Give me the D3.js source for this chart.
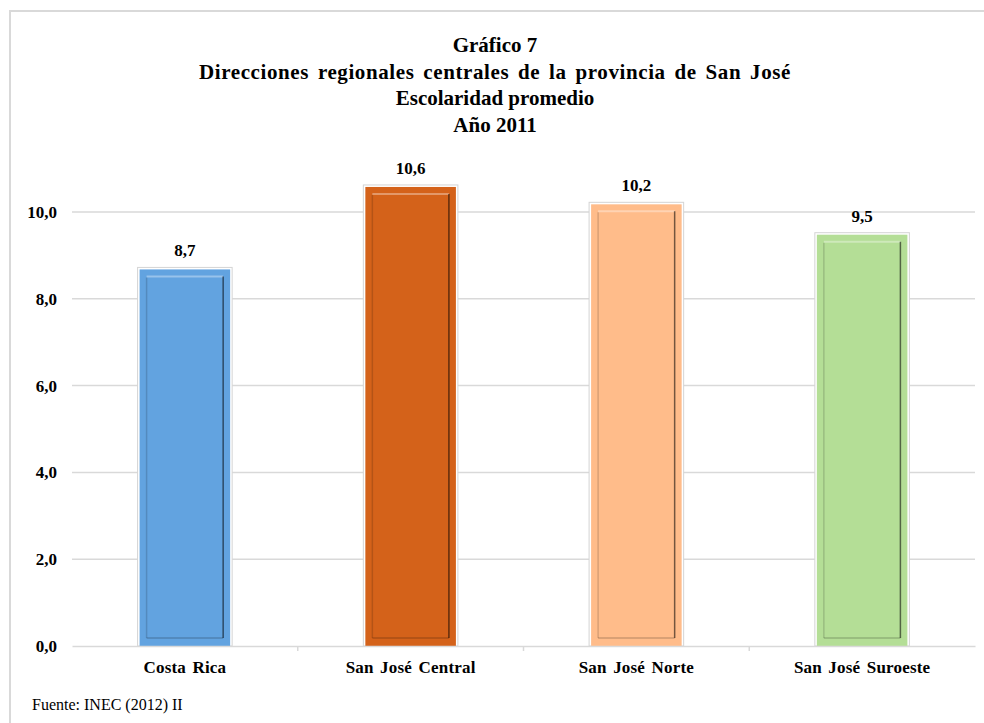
<!DOCTYPE html>
<html>
<head>
<meta charset="utf-8">
<script src="https://cdn.jsdelivr.net/npm/d3@7"></script>
<style>
  body { margin: 0; background: #fff; }
  svg text { font-family: "Liberation Serif", "Times New Roman", serif; }
</style>
</head>
<body>
<script>
// Settings
const SIZE = [984, 723]
const MARGIN = {top: 212, right: 9, bottom: 77, left: 72}

const categories = ["Costa Rica", "San José Central", "San José Norte", "San José Suroeste"]
const values = [8.7, 10.6, 10.2, 9.5]
const colors = ["#62a3e0", "#d4621a", "#ffbc8a", "#b4de96"]
const yTicks = [0, 2, 4, 6, 8, 10]
const titleLines = [
  "Gráfico 7",
  "Direcciones regionales centrales de la provincia de San José",
  "Escolaridad promedio",
  "Año 2011"
]
const source = "Fuente: INEC (2012) II"

const fmt = d => d3.format(".1f")(d).replace(".", ",")

const svg = d3.select("body").append("svg")
  .attr("width", SIZE[0])
  .attr("height", SIZE[1])

// outer frame (cut off at right and bottom)
svg.append("path")
  .attr("d", `M10,${SIZE[1] + 5} V11 H${SIZE[0] + 5}`)
  .attr("fill", "none")
  .attr("stroke", "#d9d9d9")
  .attr("stroke-width", 2)

const x = d3.scaleBand()
  .domain(categories)
  .range([MARGIN.left, SIZE[0] - MARGIN.right])
  .paddingInner(0.59)
  .paddingOuter(0.295)

const xOuter = d3.scaleBand()
  .domain(categories)
  .range([MARGIN.left, SIZE[0] - MARGIN.right])

const y = d3.scaleLinear()
  .domain([0, 10])
  .range([SIZE[1] - MARGIN.bottom, MARGIN.top])

// gridlines
svg.append("g")
  .selectAll("line")
  .data(yTicks.filter(d => d > 0))
  .join("line")
    .attr("x1", MARGIN.left)
    .attr("x2", SIZE[0] - MARGIN.right)
    .attr("y1", d => y(d))
    .attr("y2", d => y(d))
    .attr("stroke", "#d9d9d9")
    .attr("stroke-width", 1.5)

// y labels
svg.append("g")
  .selectAll("text")
  .data(yTicks)
  .join("text")
    .attr("x", 57)
    .attr("y", d => y(d))
    .attr("dy", "0.35em")
    .attr("text-anchor", "end")
    .attr("font-size", 17)
    .attr("font-weight", "bold")
    .attr("fill", "#000")
    .text(fmt)

// bars
const bars = svg.append("g")
  .selectAll("g")
  .data(categories.map((c, i) => ({c, v: values[i], color: colors[i]})))
  .join("g")

bars.append("rect")
  .attr("x", d => x(d.c) - 1)
  .attr("y", d => y(d.v) - 1)
  .attr("width", x.bandwidth() + 2)
  .attr("height", d => y(0) - y(d.v) + 1)
  .attr("fill", "#fff")
  .attr("stroke", "#d4d4d4")
  .attr("stroke-width", 1)

bars.append("rect")
  .attr("x", d => x(d.c) + 1)
  .attr("y", d => y(d.v) + 1)
  .attr("width", x.bandwidth() - 2)
  .attr("height", d => y(0) - y(d.v) - 1)
  .attr("fill", d => d.color)

const inset = 8
// inner bevel: light top edge, dark right edge, shaded left/bottom
bars.append("line")
  .attr("x1", d => x(d.c) + inset)
  .attr("x2", d => x(d.c) + x.bandwidth() - inset)
  .attr("y1", d => y(d.v) + inset)
  .attr("y2", d => y(d.v) + inset)
  .attr("stroke", "#fff")
  .attr("stroke-opacity", 0.35)
  .attr("stroke-width", 2)
bars.append("line")
  .attr("x1", d => x(d.c) + inset)
  .attr("x2", d => x(d.c) + inset)
  .attr("y1", d => y(d.v) + inset + 1)
  .attr("y2", d => y(0) - inset)
  .attr("stroke", "#000")
  .attr("stroke-opacity", 0.15)
  .attr("stroke-width", 1.5)
bars.append("line")
  .attr("x1", d => x(d.c) + inset)
  .attr("x2", d => x(d.c) + x.bandwidth() - inset)
  .attr("y1", d => y(0) - inset)
  .attr("y2", d => y(0) - inset)
  .attr("stroke", "#000")
  .attr("stroke-opacity", 0.15)
  .attr("stroke-width", 2)
bars.append("line")
  .attr("x1", d => x(d.c) + x.bandwidth() - inset)
  .attr("x2", d => x(d.c) + x.bandwidth() - inset)
  .attr("y1", d => y(d.v) + inset)
  .attr("y2", d => y(0) - inset)
  .attr("stroke", "#000")
  .attr("stroke-opacity", 0.55)
  .attr("stroke-width", 1.5)

// value labels
bars.append("text")
  .attr("x", d => x(d.c) + x.bandwidth() / 2)
  .attr("y", d => y(d.v) - 12)
  .attr("text-anchor", "middle")
  .attr("font-size", 17)
  .attr("font-weight", "bold")
  .attr("fill", "#000")
  .text(d => fmt(d.v))

// x axis
const xAxis = g => g
  .attr("transform", `translate(0,${y(0)})`)
  .call(d3.axisBottom(xOuter).tickSize(0).tickPadding(15))
  .call(g => g.select(".domain").attr("stroke", "#d9d9d9").attr("stroke-width", 1.5))
  .call(g => g.selectAll(".tick text")
    .attr("font-family", "Liberation Serif, Times New Roman, serif")
    .attr("font-size", 17)
    .attr("font-weight", "bold")
    .attr("word-spacing", 2)
    .attr("letter-spacing", 0.2)
    .attr("fill", "#000"))

svg.append("g").call(xAxis)

svg.append("g")
  .selectAll("line")
  .data(categories.slice(1))
  .join("line")
    .attr("x1", d => xOuter(d))
    .attr("x2", d => xOuter(d))
    .attr("y1", y(0))
    .attr("y2", y(0) + 5)
    .attr("stroke", "#d9d9d9")
    .attr("stroke-width", 1.5)

// title
svg.append("g")
  .selectAll("text")
  .data(titleLines)
  .join("text")
    .attr("x", 495)
    .attr("y", (d, i) => 52 + i * 26.5)
    .attr("text-anchor", "middle")
    .attr("font-size", 21)
    .attr("font-weight", "bold")
    .attr("word-spacing", (d, i) => i === 1 ? 3 : 0)
    .attr("letter-spacing", (d, i) => i === 1 ? 0.6 : 0)
    .attr("fill", "#000")
    .text(d => d)

svg.append("text")
  .attr("x", 32)
  .attr("y", 710)
  .attr("font-size", 16)
  .attr("fill", "#000")
  .text(source)
</script>
</body>
</html>
